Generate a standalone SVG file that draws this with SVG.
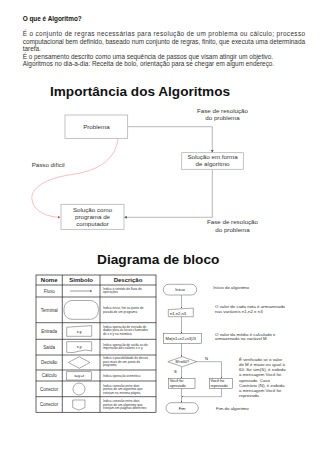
<svg xmlns="http://www.w3.org/2000/svg" width="320" height="452" viewBox="0 0 320 452">
<defs>
<style>
text{font-family:"Liberation Sans",Arial,sans-serif;fill:#222}
.p{font-size:6.4px;fill:#333}
.h1{font-size:13.6px;font-weight:bold;fill:#111}
.s{font-size:6.2px;fill:#333}
.t{font-size:3.2px;fill:#333}
.th{font-size:6px;font-weight:bold}
.tn{font-size:4.5px;fill:#333}
.sy{font-size:3.8px}
.fc{font-size:4.1px}
.nt{font-size:4.4px;fill:#333}
.box{fill:#fff;stroke:#aaa;stroke-width:0.7}
.bk{fill:#fff;stroke:#555;stroke-width:0.5}
.ln{fill:none;stroke:#999;stroke-width:0.7}
.fl{fill:none;stroke:#555;stroke-width:0.45}
.tb{fill:none;stroke:#222;stroke-width:0.7}
</style>
<marker id="ag" viewBox="0 0 6 6" refX="5" refY="3" markerWidth="4" markerHeight="4" orient="auto"><path d="M0,0L6,3L0,6z" fill="#555"/></marker>
<marker id="ar" viewBox="0 0 6 6" refX="5" refY="3" markerWidth="4" markerHeight="4" orient="auto"><path d="M0,0L6,3L0,6z" fill="#e44"/></marker>
<marker id="af" viewBox="0 0 6 6" refX="5" refY="3" markerWidth="3.5" markerHeight="3.5" orient="auto"><path d="M0,0L6,3L0,6z" fill="#333"/></marker>
</defs>
<rect width="320" height="452" fill="#fff"/>

<g id="intro">
<text x="22.7" y="20.8" style="font-size:6.4px;font-weight:bold;fill:#111">O que é Algoritmo?</text>
<text class="p" x="22.7" y="36" textLength="282.3" lengthAdjust="spacing">É o conjunto de regras necessárias para resolução de um problema ou cálculo; processo</text>
<text class="p" x="22.7" y="43.5" textLength="282.3" lengthAdjust="spacing">computacional bem definido, baseado num conjunto de regras, finito, que executa uma determinada</text>
<text class="p" x="22.7" y="51">tarefa.</text>
<text class="p" x="22.7" y="58.5">É o pensamento descrito como uma sequência de passos que visam atingir um objetivo.</text>
<text class="p" x="22.7" y="66">Algoritmos no dia-a-dia: Receita de bolo, orientação para se chegar em algum endereço.</text>
</g>

<text class="h1" x="50" y="95.5">Importância dos Algoritmos</text>

<g id="connectors-importancia">
<path class="ln" d="M127.7,126.7H212.3V152.2" marker-end="url(#ag)"/>
<path class="ln" d="M212.3,169.3V217.3H124.5" marker-end="url(#ag)"/>
<path d="M118,138.5C116,158 100,170 75,174C45,178 30,188 32,200C34,212 48,217 60,217.3" fill="none" stroke="#f4a3a3" stroke-width="0.7" marker-end="url(#ar)"/>
</g>
<g id="problema">
<rect class="box" x="65" y="115" width="62.7" height="23.3"/>
<text class="s" x="96.4" y="128.7" text-anchor="middle">Problema</text>
</g>
<g id="fase1">
<text class="s" x="222.5" y="112.5" text-anchor="middle">Fase de resolução</text>
<text class="s" x="222.5" y="120" text-anchor="middle">do problema</text>
</g>
<g id="solucao-algoritmo">
<rect class="box" x="181.7" y="152.7" width="61.6" height="16.6"/>
<text class="s" x="212.5" y="158.6" text-anchor="middle">Solução em forma</text>
<text class="s" x="212.5" y="166.1" text-anchor="middle">de algoritmo</text>
</g>
<g id="passo">
<text class="s" x="31.7" y="166.7">Passo difícil</text>
</g>
<g id="solucao-programa">
<rect class="box" x="61" y="204.3" width="63" height="25"/>
<text class="s" x="92.5" y="212" text-anchor="middle">Solução como</text>
<text class="s" x="92.5" y="219" text-anchor="middle">programa de</text>
<text class="s" x="92.5" y="226.2" text-anchor="middle">computador</text>
</g>
<g id="fase2">
<text class="s" x="232.5" y="224" text-anchor="middle">Fase de resolução</text>
<text class="s" x="232.5" y="231.7" text-anchor="middle">do problema</text>
</g>

<text class="h1" x="97" y="264" style="font-size:13.7px">Diagrama de bloco</text>

<g id="tabela">
<rect class="tb" x="36" y="275" width="120" height="137.3"/>
<path class="tb" d="M62.3,275V412.3M100,275V412.3M36,285H156M36,297H156M36,322.7H156M36,339.3H156M36,355H156M36,370H156M36,381H156M36,396.7H156"/>
<text class="th" x="49.2" y="282.2" text-anchor="middle">Nome</text>
<text class="th" x="81.2" y="282.2" text-anchor="middle">Símbolo</text>
<text class="th" x="128" y="282.2" text-anchor="middle">Descrição</text>

<text class="tn" x="49.2" y="292.6" text-anchor="middle">Fluxo</text>
<path d="M70,291H91.7" stroke="#333" stroke-width="0.5" marker-end="url(#af)"/>
<text class="t" x="103" y="289.6">Indica o sentido do fluxo  de</text>
<text class="t" x="103" y="293.2">operações</text>

<text class="tn" x="49.2" y="311.6" text-anchor="middle">Terminal</text>
<rect class="bk" x="64" y="300.5" width="34.3" height="18.8" rx="8"/>
<text class="t" x="103" y="309">Indica início, fim ou ponto de</text>
<text class="t" x="103" y="312.6">parada de um programa</text>

<text class="tn" x="49.2" y="332.6" text-anchor="middle">Entrada</text>
<path class="bk" d="M66.7,327.2L91.7,325.6V336.3H66.7z"/>
<text class="sy" x="79.2" y="333.4" text-anchor="middle">x,y</text>
<text class="t" x="103" y="327.8">Indica operação de entrada de</text>
<text class="t" x="103" y="331.3">dados para as locais chamados</text>
<text class="t" x="103" y="334.8">de x e y na memória</text>

<text class="tn" x="49.2" y="348.8" text-anchor="middle">Saída</text>
<path class="bk" d="M66.7,341.7H91.7V351Q85.5,349 79.2,351.2T66.7,352.3z"/>
<text class="sy" x="79.2" y="348.2" text-anchor="middle">x,y</text>
<text class="t" x="103" y="345.6">Indica operação de saída ou de</text>
<text class="t" x="103" y="349.2">impressão dos valores  x e y</text>

<text class="tn" x="49.2" y="364.1" text-anchor="middle">Decisão</text>
<path class="bk" d="M79.2,356.7L90,362.5L79.2,368.3L68.4,362.5z"/>
<text class="t" x="103" y="359.4">Indica a possibilidade de desvio</text>
<text class="t" x="103" y="362.9">para mais de um ponto do</text>
<text class="t" x="103" y="366.4">programa</text>

<text class="tn" x="49.2" y="377.1" text-anchor="middle">Cálculo</text>
<rect class="bk" x="66.7" y="371.8" width="25" height="8.2"/>
<text class="sy" x="79.2" y="377.3" text-anchor="middle">x=y+z</text>
<text class="t" x="103" y="376.8">Indica operação aritmética</text>

<text class="tn" x="49.2" y="390.5" text-anchor="middle">Conector</text>
<circle class="bk" cx="79" cy="389" r="6"/>
<text class="t" x="103" y="386.9">Indica conexão entre dois</text>
<text class="t" x="103" y="390.3">pontos de um algoritmo que</text>
<text class="t" x="103" y="393.7">estejam na mesma página</text>

<text class="tn" x="49.2" y="406.1" text-anchor="middle">Conector</text>
<path class="bk" d="M72.7,400H85V407.5L78.85,410.2L72.7,407.5z"/>
<text class="t" x="103" y="402.2">Indica conexão entre dois</text>
<text class="t" x="103" y="405.6">pontos de um algoritmo que</text>
<text class="t" x="103" y="409">estejam em páginas diferentes</text>
</g>

<g id="connectors-fluxo">
<path class="fl" d="M181.5,295V308" marker-end="url(#af)"/>
<path class="fl" d="M181.5,316.7V333.1" marker-end="url(#af)"/>
<path class="fl" d="M181.5,343.3V356.5" marker-end="url(#af)"/>
<path class="fl" d="M181.5,366.9V378.1" marker-end="url(#af)"/>
<path class="fl" d="M196.5,361.7H221.5V378.1" marker-end="url(#af)"/>
<path class="fl" d="M221.5,388.3V396.7H182" marker-end="url(#af)"/>
<path class="fl" d="M181.5,388.3V402.5" marker-end="url(#af)"/>
</g>
<g id="inicio">
<rect class="bk" x="163.3" y="284.3" width="33.4" height="10.7" rx="5.3"/>
<text class="fc" x="180" y="291.1" text-anchor="middle">Inicio</text>
</g>
<g id="leitura">
<path class="bk" d="M168.3,309.6L193.3,308.1V316.7H168.3z"/>
<text class="fc" x="170" y="314.6">n1,n2,n3</text>
</g>
<g id="media">
<rect class="bk" x="163.3" y="333.3" width="38.4" height="10"/>
<text class="fc" x="165.5" y="339.8">M=(n1+n2+n3)/3</text>
</g>
<g id="decisao">
<path class="bk" d="M182.3,356.7L196.8,361.7L182.3,366.7L167.8,361.7z"/>
<text class="fc" x="182.3" y="363.1" text-anchor="middle" style="font-size:3.7px">M&gt;=60?</text>
<text class="fc" x="205" y="359.6">N</text>
<text class="fc" x="174" y="373.2">S</text>
</g>
<g id="aprovado">
<rect class="bk" x="168.3" y="378.3" width="26.7" height="10"/>
<text class="fc" x="169.8" y="382.3" style="font-size:3.8px">Você foi</text>
<text class="fc" x="169.8" y="387" style="font-size:3.8px">aprovado</text>
</g>
<g id="reprovado">
<rect class="bk" x="209.3" y="378.3" width="23.4" height="10"/>
<text class="fc" x="210.6" y="382.3" style="font-size:3.8px">Você foi</text>
<text class="fc" x="210.6" y="387" style="font-size:3.8px">reprovado</text>
</g>
<g id="fim">
<rect class="bk" x="166" y="402.7" width="32.3" height="10.6" rx="5.3"/>
<text class="fc" x="182.1" y="409.5" text-anchor="middle">Fim</text>
</g>
<g id="notas">
<text class="nt" x="213.3" y="289.3">Início do algoritmo</text>
<text class="nt" x="215" y="308.3">O valor de cada nota é armazenado</text>
<text class="nt" x="215" y="312.8">nas variáveis n1,n2 e n3</text>
<text class="nt" x="215" y="335.6">O valor da média é calculado e</text>
<text class="nt" x="215" y="340.1">armazenado na variável M</text>
<text class="nt" x="239" y="360.8">É verificado se o valor</text>
<text class="nt" x="239" y="366">de M é maior ou igual à</text>
<text class="nt" x="239" y="371.2">60. Se sim(S), é exibida</text>
<text class="nt" x="239" y="376.4">a mensagem Você foi</text>
<text class="nt" x="239" y="381.6">aprovado. Caso</text>
<text class="nt" x="239" y="386.8">Contrário (N), é exibida</text>
<text class="nt" x="239" y="392">a mensagem Você foi</text>
<text class="nt" x="239" y="397.2">reprovado.</text>
<text class="nt" x="216" y="409.8">Fim  do algoritmo</text>
</g>
</svg>
